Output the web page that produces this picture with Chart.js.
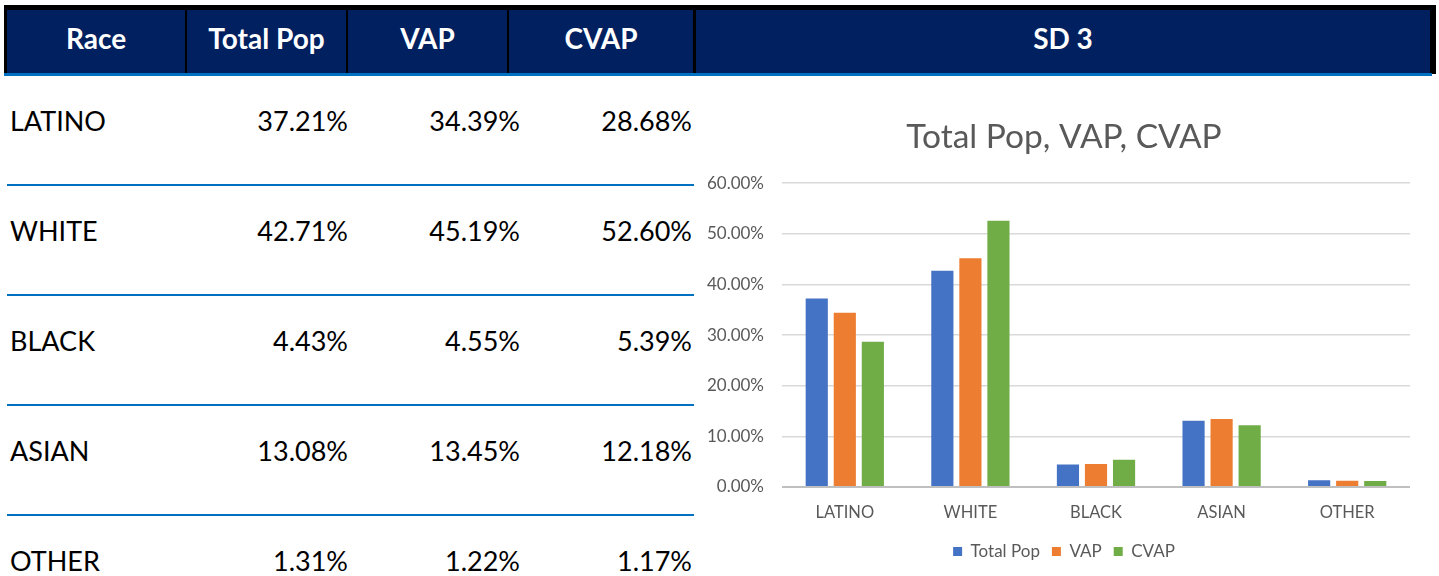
<!DOCTYPE html>
<html>
<head>
<meta charset="utf-8">
<script src="https://cdn.jsdelivr.net/npm/chart.js@4/dist/chart.umd.min.js"></script>
<style>
  html, body { margin: 0; padding: 0; background: #fff; width: 1439px; height: 576px; overflow: hidden; font-family: Lato, "Open Sans", sans-serif; }
  #frame { position: absolute; left: 4px; top: 5px; width: 1432px; height: 69px; background: #000; }
  .hc { position: absolute; top: 5px; height: 64px; background: #002060; color: #fff; font-weight: bold; font-size: 28px; text-align: center; line-height: 56px; }
  #hline { position: absolute; left: 4px; top: 73px; width: 1428px; height: 3px; background: #0070c0; }
  .cell { position: absolute; font-size: 27px; color: #000; line-height: 30px; white-space: nowrap; }
  .num { text-align: right; }
  .rline { position: absolute; left: 7px; width: 687px; height: 2px; background: #0070c0; }
  #wrap { position: absolute; left: 695px; top: 76px; width: 744px; height: 500px; }
</style>
</head>
<body>
<div id="frame">
  <div class="hc" style="left:3px;width:178px">Race</div>
  <div class="hc" style="left:183px;width:159px">Total Pop</div>
  <div class="hc" style="left:344px;width:159px">VAP</div>
  <div class="hc" style="left:505px;width:184px">CVAP</div>
  <div class="hc" style="left:692px;width:734px">SD 3</div>
</div>
<div id="hline"></div>
<div id="table"></div>
<div id="wrap"><canvas id="chart"></canvas></div>
<script>
// Données
const races = ["LATINO", "WHITE", "BLACK", "ASIAN", "OTHER"];
const totalPop = [37.21, 42.71, 4.43, 13.08, 1.31];
const vap = [34.39, 45.19, 4.55, 13.45, 1.22];
const cvap = [28.68, 52.6, 5.39, 12.18, 1.17];
const seriesNames = ["Total Pop", "VAP", "CVAP"];
const yTicks = [0, 10, 20, 30, 40, 50, 60];

// Tableau à gauche
const table = document.getElementById("table");
const rowY = [121, 231, 341, 451, 561];
const colRight = [348, 520, 692];
races.forEach((race, i) => {
  const top = rowY[i] - 15;
  let html = `<div class="cell" style="left:10px;top:${top}px">${race}</div>`;
  [totalPop, vap, cvap].forEach((serie, j) => {
    html += `<div class="cell num" style="right:${1439 - colRight[j]}px;top:${top}px">${serie[i].toFixed(2)}%</div>`;
  });
  if (i < races.length - 1) {
    html += `<div class="rline" style="top:${rowY[i] + 63}px"></div>`;
  }
  table.insertAdjacentHTML("beforeend", html);
});

// Décale le titre et la légende pour les centrer comme dans Excel
const shiftBoxes = {
  id: "shiftBoxes",
  afterLayout(chart) {
    if (chart.titleBlock) chart.titleBlock.left += 23;
    if (chart.legend) chart.legend.left += 23;
  },
};

// Graphique en barres
const ctx = document.getElementById("chart").getContext("2d");
new Chart(ctx, {
  type: "bar",
  data: {
    labels: races,
    datasets: [
      { label: seriesNames[0], data: totalPop, backgroundColor: "#4472c4" },
      { label: seriesNames[1], data: vap, backgroundColor: "#ed7d31" },
      { label: seriesNames[2], data: cvap, backgroundColor: "#70ad47" },
    ],
  },
  options: {
    responsive: true,
    maintainAspectRatio: false,
    animation: false,
    layout: { padding: { top: 0, left: 0, right: 29, bottom: 6 } },
    datasets: { bar: { categoryPercentage: 0.67, barPercentage: 0.79 } },
    plugins: {
      title: {
        display: true,
        text: "Total Pop, VAP, CVAP",
        color: "#595959",
        font: { family: "Lato", size: 33.5, weight: "normal" },
        padding: { top: 41, bottom: 26 },
      },
      legend: {
        position: "bottom",
        labels: {
          color: "#595959",
          font: { family: "Lato", size: 17 },
          boxWidth: 9,
          boxHeight: 9,
          padding: 12,
        },
      },
      tooltip: { enabled: false },
    },
    scales: {
      x: {
        grid: { display: false },
        border: { display: false },
        ticks: { color: "#595959", font: { family: "Lato", size: 16.5 }, padding: 8 },
        afterFit: (scale) => { scale.height = 44; },
      },
      y: {
        min: 0,
        max: 60,
        afterBuildTicks: (scale) => { scale.ticks = yTicks.map((v) => ({ value: v })); },
        grid: {
          drawTicks: false,
          color: (c) => (c.tick && c.tick.value === 0 ? "#bfbfbf" : "#d9d9d9"),
          lineWidth: (c) => (c.tick && c.tick.value === 0 ? 2 : 1.5),
        },
        border: { display: false },
        ticks: {
          color: "#595959",
          font: { family: "Lato", size: 17 },
          padding: 18,
          callback: (v) => v.toFixed(2) + "%",
        },
        afterFit: (scale) => { scale.width = 87; },
      },
    },
  },
  plugins: [shiftBoxes],
});
</script>
</body>
</html>
